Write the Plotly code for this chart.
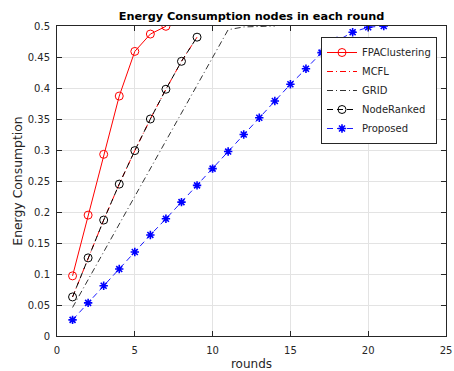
import plotly.graph_objects as go

rounds_fpa = [1, 2, 3, 4, 5, 6, 7]
fpa = [0.097, 0.195, 0.293, 0.387, 0.459, 0.487, 0.4995]

rounds_mcfl = [1, 2, 3, 4, 5, 6, 7, 8, 9]
mcfl = [0.063, 0.126, 0.187, 0.245, 0.299, 0.350, 0.398, 0.443, 0.482]

rounds_grid = [1, 2, 3, 4, 5, 6, 7, 8, 9, 10, 11, 12, 13, 14]
grid = [0.046, 0.091, 0.136, 0.181, 0.226, 0.270, 0.315, 0.360, 0.405, 0.449, 0.494, 0.4985, 0.4995, 0.5]

rounds_nr = [1, 2, 3, 4, 5, 6, 7, 8, 9]
noderanked = [0.063, 0.126, 0.187, 0.245, 0.299, 0.350, 0.398, 0.443, 0.482]

rounds_prop = list(range(1, 22))
proposed = [0.026, 0.0535, 0.081, 0.108, 0.1355, 0.163, 0.189, 0.216, 0.243, 0.270,
            0.2975, 0.325, 0.352, 0.379, 0.406, 0.431, 0.457, 0.476, 0.490, 0.498, 0.500]

x_ticks = [0, 5, 10, 15, 20, 25]
y_ticks = [0, 0.05, 0.1, 0.15, 0.2, 0.25, 0.3, 0.35, 0.4, 0.45, 0.5]
y_ticktext = ["0", "0.05", "0.1", "0.15", "0.2", "0.25", "0.3", "0.35", "0.4", "0.45", "0.5"]

FONT = "DejaVu Sans"
TXT = "#262626"

W, H = 454, 371
ML, MR, MT, MB = 57, 8, 26, 35
PW = W - ML - MR
PH = H - MT - MB

fig = go.Figure()
fig.add_trace(go.Scatter(
    x=rounds_fpa, y=fpa, name="FPAClustering", mode="lines+markers",
    line=dict(color="#ff0000", width=1),
    marker=dict(symbol="circle-open", size=8, color="#ff0000", line=dict(width=1, color="#ff0000")),
))
fig.add_trace(go.Scatter(
    x=rounds_mcfl, y=mcfl, name="MCFL", mode="lines",
    line=dict(color="#ff0000", width=1, dash="6px,3px,1px,3px"),
))
fig.add_trace(go.Scatter(
    x=rounds_grid, y=grid, name="GRID", mode="lines",
    line=dict(color="#333333", width=1, dash="6px,3px,1px,3px"),
))
fig.add_trace(go.Scatter(
    x=rounds_nr, y=noderanked, name="NodeRanked", mode="lines+markers",
    line=dict(color="#000000", width=1, dash="6px,4px"),
    marker=dict(symbol="circle-open", size=8, color="#000000", line=dict(width=1, color="#000000")),
))
fig.add_trace(go.Scatter(
    x=rounds_prop, y=proposed, name="Proposed", mode="lines+markers",
    line=dict(color="#0000ff", width=0.9, dash="6px,4px"),
    marker=dict(symbol="asterisk-open", size=7, color="#0000ff", line=dict(width=1.6, color="#0000ff")),
))

axis_common = dict(
    showline=True, linecolor=TXT, linewidth=1, mirror="ticks",
    ticks="inside", ticklen=5, tickcolor=TXT, tickwidth=1,
    showgrid=True, gridcolor="#e3e3e3", gridwidth=1,
    zeroline=False, tickfont=dict(family=FONT, size=10, color=TXT),
    ticklabeloverflow="allow",
)

fig.update_xaxes(
    range=[0, 25], tickvals=x_ticks, ticktext=[str(v) for v in x_ticks],
    title=dict(text="rounds", font=dict(family=FONT, size=12, color=TXT), standoff=6),
    ticklabelstandoff=5, automargin=False, **axis_common,
)
fig.update_yaxes(
    range=[0, 0.5], tickvals=y_ticks, ticktext=y_ticktext,
    title=dict(text="Energy Consumption", font=dict(family=FONT, size=12.4, color=TXT), standoff=2),
    ticklabelstandoff=4, automargin=False, **axis_common,
)

fig.update_layout(
    width=W, height=H,
    margin=dict(l=ML, r=MR, t=MT, b=MB),
    paper_bgcolor="white", plot_bgcolor="white",
    font=dict(family=FONT, color=TXT),
    title=dict(
        text="Energy Consumption nodes in each round",
        font=dict(family=FONT, size=11.3, color="#000000", weight="bold"),
        x=0.5, xref="paper", xanchor="center",
        y=1 - 16 / H, yref="container", yanchor="middle",
    ),
    showlegend=True,
    legend=dict(
        x=(437 - ML) / PW, xanchor="right", xref="paper",
        y=(H - MB - 37) / PH, yanchor="top", yref="paper",
        bgcolor="white", bordercolor="#262626", borderwidth=1,
        font=dict(family=FONT, size=10, color=TXT),
        tracegroupgap=0,
    ),
)

fig.write_html("out.html")
